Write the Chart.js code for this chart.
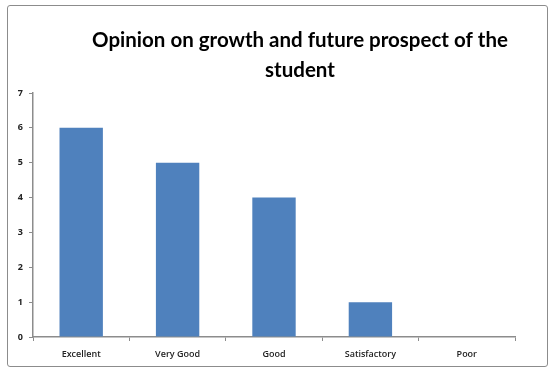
<!DOCTYPE html>
<html>
<head>
<meta charset="utf-8">
<script src="https://cdn.jsdelivr.net/npm/chart.js@4"></script>
<style>
  body { margin: 0; background: #fff; }
  #wrap { position: relative; width: 550px; height: 371px; }
  #frame { position: absolute; left: 7px; top: 5px; width: 539px; height: 360px;
           border: 1.5px solid #8c8c8c; border-radius: 3px; pointer-events: none; }
</style>
</head>
<body>
<div id="wrap">
  <canvas id="grafico" width="550" height="371"></canvas>
  <div id="frame"></div>
</div>
<script>
const categorias = ['Excellent', 'Very Good', 'Good', 'Satisfactory', 'Poor']
const valores = [6, 5, 4, 1, 0]
const titulo = ['Opinion on growth and future prospect of the', 'student']

// titulo desenhado a mao, centralizado um pouco a direita como no original
const tituloPlugin = {
    id: 'tituloPlugin',
    afterDraw: (chart) => {
        const ctx = chart.ctx
        ctx.save()
        ctx.font = 'bold 20.5px Lato'
        ctx.fillStyle = '#000'
        ctx.textAlign = 'center'
        ctx.textBaseline = 'middle'
        ctx.fillText(titulo[0], 300, 40)
        ctx.fillText(titulo[1], 300, 70)
        ctx.restore()
    }
}

const config = {
    type: 'bar',
    data: {
        labels: categorias,
        datasets: [{
            data: valores,
            backgroundColor: '#4f81bd',
            barPercentage: 0.45,
            categoryPercentage: 1.0,
        }]
    },
    options: {
        responsive: false,
        animation: false,
        layout: {
            padding: { left: 7, right: 35, top: 93, bottom: 0 }
        },
        scales: {
            x: {
                grid: { display: true, drawOnChartArea: false, offset: true, tickLength: 4, color: '#8c8c8c' },
                border: { color: '#8c8c8c', width: 1.5 },
                ticks: { color: '#222', font: { family: 'Open Sans', size: 9, weight: '600' }, padding: 8 },
                afterFit: (s) => { s.height = 34 }
            },
            y: {
                min: 0,
                max: 7,
                ticks: { stepSize: 1, color: '#222', font: { family: 'Open Sans', size: 9, weight: 'bold' }, padding: 6 },
                grid: { display: true, drawOnChartArea: false, tickLength: 4, color: '#8c8c8c' },
                border: { color: '#8c8c8c', width: 1.5 },
                afterFit: (s) => { s.width = 26 }
            }
        },
        plugins: {
            legend: { display: false },
            tooltip: { enabled: false }
        }
    },
    plugins: [tituloPlugin]
}

const meuGrafico = new Chart(document.getElementById('grafico'), config)
</script>
</body>
</html>
